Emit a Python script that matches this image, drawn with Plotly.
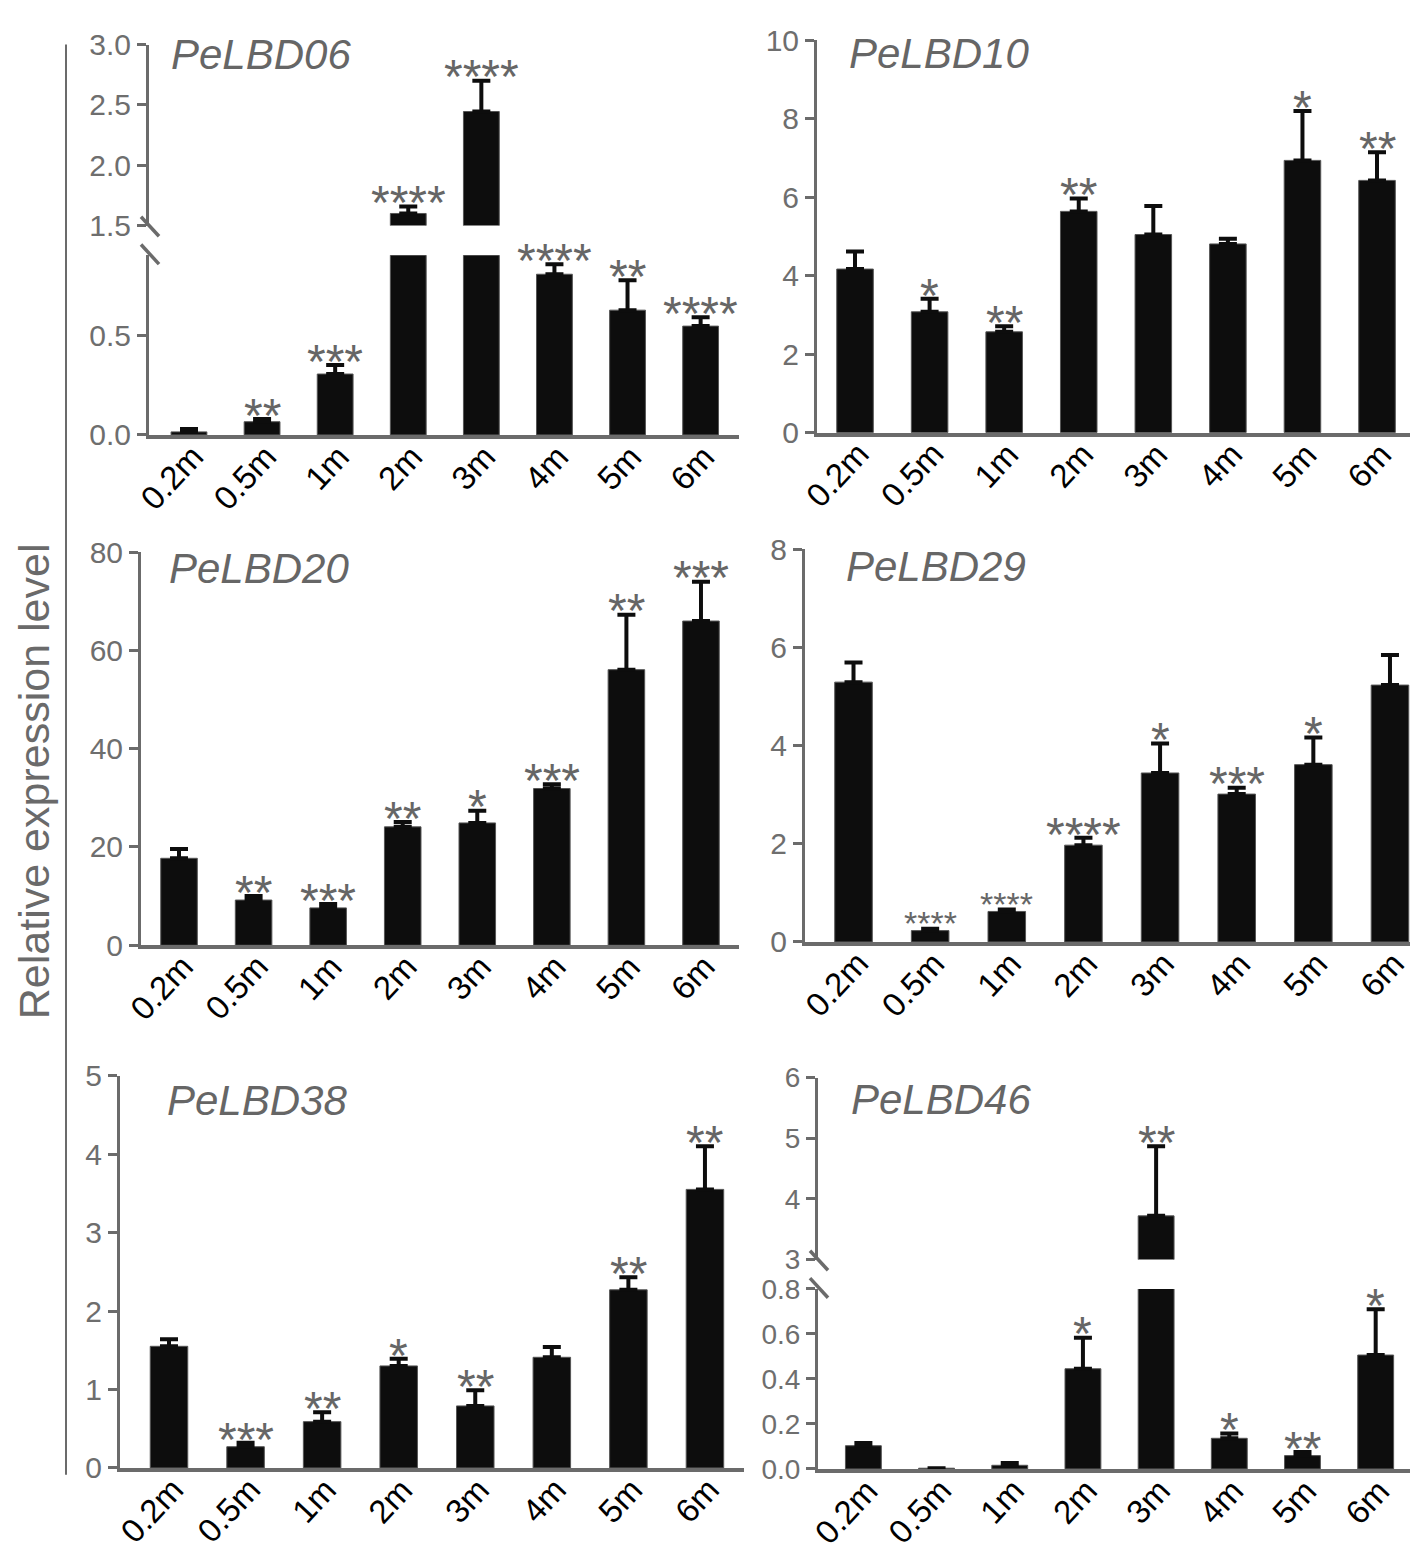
import plotly.graph_objects as go

# ---------------- data ----------------
categories = ["0.2m", "0.5m", "1m", "2m", "3m", "4m", "5m", "6m"]

lbd06_mean = [0.015, 0.066, 0.305, 1.60, 2.445, 0.805, 0.625, 0.545]
lbd06_err = [0.015, 0.014, 0.045, 0.057, 0.255, 0.050, 0.150, 0.045]
lbd06_sig = ["", "**", "***", "****", "****", "****", "**", "****"]

lbd10_mean = [4.17, 3.08, 2.57, 5.64, 5.05, 4.81, 6.94, 6.43]
lbd10_err = [0.45, 0.33, 0.14, 0.33, 0.73, 0.13, 1.26, 0.72]
lbd10_sig = ["", "*", "**", "**", "", "", "*", "**"]

lbd20_mean = [17.7, 9.2, 7.6, 24.1, 24.9, 31.9, 56.1, 66.0]
lbd20_err = [1.9, 0.8, 0.8, 1.0, 2.5, 0.9, 11.2, 8.0]
lbd20_sig = ["", "**", "***", "**", "*", "***", "**", "***"]

lbd29_mean = [5.29, 0.23, 0.62, 1.97, 3.44, 3.01, 3.61, 5.23]
lbd29_err = [0.40, 0.04, 0.04, 0.15, 0.60, 0.13, 0.55, 0.61]
lbd29_sig = ["", "****", "****", "****", "*", "***", "*", ""]

lbd38_mean = [1.55, 0.27, 0.59, 1.30, 0.79, 1.41, 2.27, 3.55]
lbd38_err = [0.09, 0.05, 0.12, 0.09, 0.20, 0.13, 0.16, 0.55]
lbd38_sig = ["", "***", "**", "*", "**", "", "**", "**"]

lbd46_mean = [0.103, 0.003, 0.016, 0.445, 3.72, 0.136, 0.059, 0.506]
lbd46_err = [0.012, 0.0, 0.010, 0.138, 1.15, 0.021, 0.016, 0.204]
lbd46_sig = ["", "", "", "*", "**", "*", "**", "*"]

# tick values
lbd06_low_ticks = [0.0, 0.5]
lbd06_high_ticks = [1.5, 2.0, 2.5, 3.0]
lbd10_ticks = [0, 2, 4, 6, 8, 10]
lbd20_ticks = [0, 20, 40, 60, 80]
lbd29_ticks = [0, 2, 4, 6, 8]
lbd38_ticks = [0, 1, 2, 3, 4, 5]
lbd46_low_ticks = [0.0, 0.2, 0.4, 0.6, 0.8]
lbd46_high_ticks = [3, 4, 5, 6]

y_title = "Relative expression level"

# ---------------- style / geometry ----------------
W, H = 1418, 1563
AX = "#6b6b6b"
TXT = "#6e6e6e"
FONT = "Liberation Sans"

def px(x):
    return x / W

def py(y):
    return 1 - y / H

fig = go.Figure()
layout = {}
annotations = []
shapes = []

def xcfg(x0, x1, rng, anchor, show=True):
    return dict(domain=[px(x0), px(x1)], range=rng, type="category",
                showline=show, linecolor=AX, linewidth=3.5, ticks="",
                showticklabels=False,
                anchor=anchor, showgrid=False, zeroline=False, fixedrange=True)

def ycfg(ybot, ytop, rng, ticks, fmt, anchor, fsize=30):
    return dict(domain=[py(ybot), py(ytop)], range=rng,
                tickmode="array", tickvals=ticks,
                ticktext=[fmt.format(t) for t in ticks],
                showline=True, linecolor=AX, linewidth=3, ticks="outside",
                ticklen=9, tickwidth=3, tickcolor=AX,
                tickfont=dict(family=FONT, size=fsize, color=TXT),
                anchor=anchor, showgrid=False, zeroline=False, fixedrange=True)

def add_bars(xa, ya, mean, err):
    fig.add_trace(go.Bar(
        x=categories, y=mean, xaxis=xa, yaxis=ya, width=0.49,
        marker=dict(color="#0d0d0d", line=dict(color="#555555", width=1)),
        error_y=dict(type="data", symmetric=False, array=err,
                     arrayminus=[0] * len(err), color="#0d0d0d",
                     thickness=4, width=9),
        showlegend=False, hoverinfo="skip"))

def add_xlabels(xa, ya, y0):
    # rotated category labels hanging from the x axis (end of text near the bar)
    for c in categories:
        annotations.append(dict(
            x=c, y=y0, xref=xa, yref=ya, text=c, showarrow=False,
            textangle=-47, xanchor="right", yanchor="top",
            xshift=21, yshift=-3, borderpad=0, borderwidth=0,
            font=dict(family=FONT, size=33, color="black")))

def add_sig(xa, ya_low, ya_high, low_top, mean, err, sig, small=()):
    for i, (c, m, e, s) in enumerate(zip(categories, mean, err, sig)):
        if not s:
            continue
        top = m + e
        ya = ya_low if (ya_high is None or top <= low_top) else ya_high
        size = 34 if i in small else 48
        annotations.append(dict(
            x=c, y=top, xref=xa, yref=ya, text=s, showarrow=False,
            yanchor="bottom", yshift=-(0.64 * size) + 8,
            borderpad=0, borderwidth=0,
            font=dict(family=FONT, size=size, color="#666666")))

def add_title(text, x, y):
    annotations.append(dict(x=px(x), y=py(y), xref="paper", yref="paper",
                            text=text, showarrow=False, xanchor="left",
                            yanchor="middle",
                            font=dict(family=FONT, size=42, color="#666666",
                                      style="italic")))

def add_break(x0, yedge_up, yedge_low):
    for yc in (yedge_up + 1, yedge_low - 1):
        shapes.append(dict(type="line", xref="paper", yref="paper",
                           x0=px(x0 - 8), y0=py(yc - 10),
                           x1=px(x0 + 10), y1=py(yc + 10),
                           line=dict(color=AX, width=3.5)))

# Panel A: PeLBD06 (broken axis)
add_bars("x", "y", lbd06_mean, lbd06_err)
add_bars("x7", "y7", lbd06_mean, lbd06_err)
layout["xaxis"] = xcfg(141, 731, [-0.547, 7.525], "y")
layout["xaxis7"] = xcfg(141, 731, [-0.547, 7.525], "y7", show=False)
layout["yaxis"] = ycfg(419, 235.4, [0, 0.9], lbd06_low_ticks, "{:.1f}", "x")
layout["yaxis7"] = ycfg(205, 20, [1.5, 3.0], lbd06_high_ticks, "{:.1f}", "x7")
add_sig("x", "y", "y7", 0.9, lbd06_mean, lbd06_err, lbd06_sig)
add_xlabels("x", "y", 0)
add_title("PeLBD06", 161, 30)
add_break(141, 205, 235.4)

# Panel B: PeLBD10
add_bars("x2", "y2", lbd10_mean, lbd10_err)
layout["xaxis2"] = xcfg(809, 1409, [-0.51, 7.536], "y2")
layout["yaxis2"] = ycfg(416.7, 15.7, [0, 10], lbd10_ticks, "{}", "x2")
add_sig("x2", "y2", None, None, lbd10_mean, lbd10_err, lbd10_sig)
add_xlabels("x2", "y2", 0)
add_title("PeLBD10", 839, 29)

# Panel C: PeLBD20
add_bars("x3", "y3", lbd20_mean, lbd20_err)
layout["xaxis3"] = xcfg(133, 731, [-0.51, 7.51], "y3")
layout["yaxis3"] = ycfg(940.7, 539, [0, 80], lbd20_ticks, "{}", "x3")
add_sig("x3", "y3", None, None, lbd20_mean, lbd20_err, lbd20_sig)
add_xlabels("x3", "y3", 0)
add_title("PeLBD20", 159, 556)

# Panel D: PeLBD29
add_bars("x4", "y4", lbd29_mean, lbd29_err)
layout["xaxis4"] = xcfg(797, 1418, [-0.633, 7.47], "y4")
layout["yaxis4"] = ycfg(937.3, 535.7, [0, 8], lbd29_ticks, "{}", "x4")
add_sig("x4", "y4", None, None, lbd29_mean, lbd29_err, lbd29_sig, small=(1, 2))
add_xlabels("x4", "y4", 0)
add_title("PeLBD29", 836, 554)

# Panel E: PeLBD38
add_bars("x5", "y5", lbd38_mean, lbd38_err)
layout["xaxis5"] = xcfg(112, 736, [-0.64, 7.51], "y5")
layout["yaxis5"] = ycfg(1475, 1074, [0, 5], lbd38_ticks, "{}", "x5")
add_sig("x5", "y5", None, None, lbd38_mean, lbd38_err, lbd38_sig)
add_xlabels("x5", "y5", 0)
add_title("PeLBD38", 157, 1099)

# Panel F: PeLBD46 (broken axis)
add_bars("x6", "y6", lbd46_mean, lbd46_err)
add_bars("x8", "y8", lbd46_mean, lbd46_err)
layout["xaxis6"] = xcfg(810, 1405, [-0.62, 7.51], "y6")
layout["xaxis8"] = xcfg(810, 1405, [-0.62, 7.51], "y8", show=False)
layout["yaxis6"] = ycfg(1476, 1292, [0, 0.8], lbd46_low_ticks, "{:.1f}", "x6", fsize=28)
layout["yaxis8"] = ycfg(1262, 1076, [3, 6], lbd46_high_ticks, "{}", "x8", fsize=28)
add_sig("x6", "y6", "y8", 0.8, lbd46_mean, lbd46_err, lbd46_sig)
add_xlabels("x6", "y6", 0)
add_title("PeLBD46", 841, 1098)
add_break(810, 1262, 1292)

# Shared y title and left bracket line
annotations.append(dict(x=px(2), y=py(773), xref="paper", yref="paper",
                        text=y_title, textangle=-90, showarrow=False,
                        xanchor="left", yanchor="middle",
                        borderpad=0, borderwidth=0,
                        font=dict(family=FONT, size=43, color="#6a6a6a")))
shapes.append(dict(type="line", xref="paper", yref="paper",
                   x0=px(58), x1=px(58), y0=py(20), y1=py(1482),
                   line=dict(color=AX, width=2)))

fig.update_layout(**layout)
fig.update_layout(width=W, height=H, autosize=False,
                  margin=dict(l=0, r=0, t=0, b=0),
                  paper_bgcolor="white", plot_bgcolor="white",
                  annotations=annotations, shapes=shapes,
                  bargap=0.5, showlegend=False)

fig.write_html("out.html")
